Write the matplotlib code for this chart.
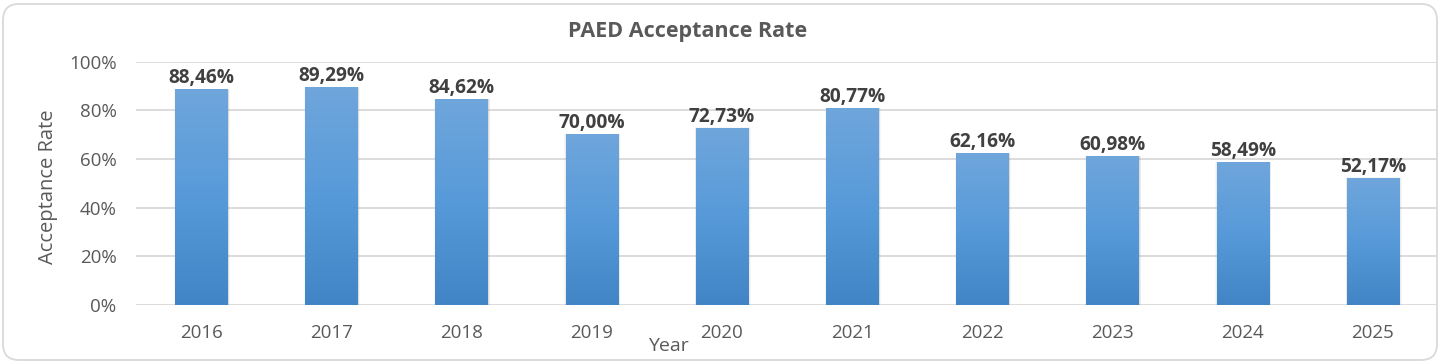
import matplotlib.pyplot as plt
import numpy as np
from matplotlib.patches import FancyBboxPatch
from matplotlib.colors import LinearSegmentedColormap

# data
years = ['2016', '2017', '2018', '2019', '2020', '2021', '2022', '2023', '2024', '2025']
rates = [88.46, 89.29, 84.62, 70.00, 72.73, 80.77, 62.16, 60.98, 58.49, 52.17]
y_ticks = [0, 20, 40, 60, 80, 100]

plt.rcParams['font.family'] = ['Open Sans', 'DejaVu Sans']

fig = plt.figure(figsize=(14.41, 3.63), dpi=100)

# background axes in pixel units for the rounded chart border
bg = fig.add_axes([0, 0, 1, 1], zorder=-1)
bg.set_xlim(0, 1441)
bg.set_ylim(0, 363)
bg.axis('off')
bg.add_patch(FancyBboxPatch((3, 3), 1434, 356, boxstyle='round,pad=0,rounding_size=16',
                            facecolor='white', edgecolor='#d9d9d9', linewidth=1.3))

ax = fig.add_axes([136 / 1441, 58 / 363, 1302 / 1441, 243.3 / 363])
ax.set_facecolor('none')

x = np.arange(len(years))
width = 0.4
bars = ax.bar(x, rates, width=width, color='none', zorder=3)

# gradient fill, lighter at the top
cmap = LinearSegmentedColormap.from_list('blu', ['#4185c6', '#579ad9', '#6fa6dc'])
grad = np.linspace(0, 1, 256).reshape(-1, 1)
for b in bars:
    x0 = b.get_x()
    h = b.get_height()
    # soft shadow, a few widening layers
    for k, a in [(0.03, 0.08), (0.02, 0.12), (0.01, 0.18)]:
        ax.bar(x0 + width / 2 + 0.006, h + k * 8, width=width + k, color='#9a9a9a',
               alpha=a, zorder=2, linewidth=0)
    ax.imshow(grad, cmap=cmap, origin='lower', aspect='auto',
              extent=(x0, x0 + width, 0, h), zorder=4)

for xi, r in zip(x, rates):
    ax.text(xi, r + 0.6, f'{r:.2f}%'.replace('.', ','), ha='center', va='bottom',
            fontsize=13.8, fontweight='bold', color='#404040', zorder=5)

ax.set_xlim(-0.5, len(years) - 0.5)
ax.set_ylim(0, 100)
ax.set_yticks(y_ticks)
ax.set_yticklabels([f'{t}%' for t in y_ticks])
ax.set_xticks(x)
ax.set_xticklabels(years)
ax.tick_params(length=0, labelsize=13.5, labelcolor='#595959')
ax.tick_params(axis='x', pad=14)
ax.tick_params(axis='y', pad=14)
ax.grid(axis='y', color='#d9d9d9', linewidth=1.3, zorder=0)
for s in ax.spines.values():
    s.set_visible(False)

fig.text(688 / 1441, 1 - 32 / 363, 'PAED Acceptance Rate', ha='center', va='center',
         fontsize=15.5, fontweight='bold', color='#595959')
fig.text(48 / 1441, 1 - 187 / 363, 'Acceptance Rate', ha='center', va='center',
         rotation=90, fontsize=14.5, color='#595959')
fig.text(668 / 1441, 1 - 346 / 363, 'Year', ha='center', va='center',
         fontsize=14, color='#595959')

fig.savefig('out.png', dpi=100)
